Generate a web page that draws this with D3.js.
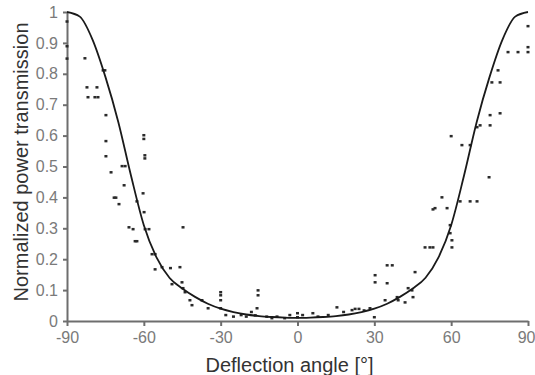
<!DOCTYPE html>
<html>
<head>
<meta charset="utf-8">
<script src="https://cdn.jsdelivr.net/npm/d3@7"></script>
<style>
    body { margin: 0; background: #fff; }
    #chart text { font-family: Arial, "Liberation Sans", sans-serif; }
</style>
</head>
<body>
<div id="chart"></div>
<script>
// fitted curve, every 5 degrees
const curveAngles = [-90, -85, -80, -75, -70, -65, -60, -55, -50, -45, -40, -35, -30, -25, -20, -15, -10, -5, 0,
    5, 10, 15, 20, 25, 30, 35, 40, 45, 50, 55, 60, 65, 70, 75, 80, 85, 90];
const curveValues = [1.0, 0.985, 0.91, 0.79, 0.645, 0.47, 0.31, 0.205, 0.14, 0.105, 0.078, 0.056, 0.04, 0.029, 0.021, 0.016, 0.013, 0.011, 0.01,
    0.011, 0.013, 0.016, 0.021, 0.029, 0.04, 0.056, 0.078, 0.105, 0.14, 0.205, 0.31, 0.47, 0.645, 0.79, 0.91, 0.985, 1.0];

// measured points
const pointAngles = [-90, -90, -90, -83, -82.2, -78.3, -81.8, -79.1, -77.9, -75.9, -75.2, -74.8, -74.8, -74.8, -72.8,
    -68.5, -67.3, -67.7, -71.6, -70.9, -69.7, -65.8, -64.2, -63.4, -62.7, -62.7, -60.3, -60, -60, -59.6, -59.6, -59.9,
    -59.5, -58, -56.8, -55.6, -55.6, -52.9, -49.6, -45.9, -44.7, -49, -45.1, -44.7, -43.9, -42, -41.2, -37.3, -34.9,
    -30, -30, -30, -30, -15.4, -15.4, -15.8, -16.5, -28, -25, -22, -20, -18, -12, -10, -8, -5, -3, 0, 0, 2, 6, 8, 12,
    15.4, 18, 21.3, 22.5, 24, 26, 28.3, 30, 30.3, 30.3, 35, 35, 37, 34.2, 38.9, 39.3, 42, 43.2, 44.7, 45.1, 45.9,
    49.8, 51.7, 52.9, 52.9, 53.7, 56.4, 58.4, 59.6, 59.6, 60.3, 60.3, 60, 63.5, 67.4, 70.1, 64.2, 67.4, 74.8, 70.1,
    71.3, 75.2, 75.2, 79.1, 75.9, 79.1, 78.3, 82.2, 86.1, 90, 90, 90];
const pointValues = [0.97, 0.89, 0.85, 0.851, 0.757, 0.757, 0.725, 0.725, 0.725, 0.812, 0.812, 0.667, 0.583, 0.534, 0.482,
    0.502, 0.502, 0.44, 0.40, 0.40, 0.379, 0.304, 0.298, 0.259, 0.259, 0.388, 0.414, 0.602, 0.59, 0.537, 0.527, 0.353,
    0.298, 0.298, 0.217, 0.217, 0.168, 0.175, 0.172, 0.175, 0.304, 0.12, 0.126, 0.107, 0.094, 0.068, 0.052, 0.068, 0.042,
    0.094, 0.084, 0.068, 0.042, 0.10, 0.084, 0.042, 0.019, 0.02, 0.015, 0.02, 0.015, 0.03, 0.015, 0.01, 0.015, 0.01, 0.02,
    0.026, 0.013, 0.02, 0.026, 0.015, 0.02,
    0.045, 0.03, 0.036, 0.04, 0.04, 0.035, 0.042, 0.013, 0.149, 0.126, 0.123, 0.181, 0.181, 0.068, 0.078, 0.068, 0.061,
    0.107, 0.10, 0.078, 0.159, 0.239, 0.239, 0.239, 0.362, 0.366, 0.401, 0.366, 0.311, 0.285, 0.262, 0.239, 0.599,
    0.388, 0.388, 0.388, 0.57, 0.57, 0.466, 0.628, 0.634, 0.634, 0.667, 0.673, 0.773, 0.773, 0.812, 0.871, 0.871,
    0.871, 0.887, 0.955];

const xTicks = [-90, -60, -30, 0, 30, 60, 90];
const yTicks = [0, 0.1, 0.2, 0.3, 0.4, 0.5, 0.6, 0.7, 0.8, 0.9, 1];

const margin = { top: 12, right: 7, bottom: 54, left: 67 };
const width = 535 - margin.left - margin.right;
const height = 375 - margin.top - margin.bottom;

const svg = d3.select('#chart').append('svg')
    .attr('width', 535)
    .attr('height', 375)
    .append('g')
    .attr('transform', `translate(${margin.left},${margin.top})`);

const xScale = d3.scaleLinear().domain([-90, 90]).range([0, width]);
const yScale = d3.scaleLinear().domain([0, 1]).range([height, 0]);

// plain hyphen for negatives, like the original
const plainFormat = (d) => String(d);

// Y axis
const yAxis = svg.append('g')
    .call(d3.axisLeft(yScale).tickValues(yTicks).tickSize(4).tickSizeOuter(0).tickFormat(plainFormat));
yAxis.select('.domain').attr('stroke', '#6e6e6e').attr('stroke-width', 2);
yAxis.selectAll('.tick line').attr('stroke', '#6e6e6e').attr('stroke-width', 2);
yAxis.selectAll('.tick text').attr('font-size', 16).attr('fill', '#7a7a7a').attr('x', -9);

// X axis
const xAxis = svg.append('g')
    .attr('transform', `translate(0,${height})`)
    .call(d3.axisBottom(xScale).tickValues(xTicks).tickSize(5).tickSizeOuter(0).tickFormat(plainFormat));
xAxis.select('.domain').attr('stroke', '#6e6e6e').attr('stroke-width', 2);
xAxis.selectAll('.tick line').attr('stroke', '#6e6e6e').attr('stroke-width', 2);
xAxis.selectAll('.tick text').attr('font-size', 16).attr('fill', '#7a7a7a').attr('y', 11);
// keep the last label inside the frame
xAxis.selectAll('.tick text').filter((d) => d === 90).attr('text-anchor', 'end').attr('dx', 7);

// points
const points = pointAngles.map((a, i) => ({ angle: a, value: pointValues[i] }));
svg.append('g')
    .selectAll('rect')
    .data(points)
    .join('rect')
    .attr('x', (d) => xScale(d.angle) - 1.5)
    .attr('y', (d) => yScale(d.value) - 1)
    .attr('width', 3)
    .attr('height', 2.5)
    .attr('fill', '#2a2a2a');

// fitted curve
const line = d3.line()
    .x((d) => xScale(d.angle))
    .y((d) => yScale(d.value))
    .curve(d3.curveMonotoneX);
svg.append('path')
    .datum(curveAngles.map((a, i) => ({ angle: a, value: curveValues[i] })))
    .attr('d', line)
    .attr('fill', 'none')
    .attr('stroke', '#1a1a1a')
    .attr('stroke-width', 1.8);

// axis titles
svg.append('text')
    .attr('x', width / 2 - 8)
    .attr('y', height + 51)
    .attr('text-anchor', 'middle')
    .attr('font-size', 20)
    .attr('fill', '#333')
    .text('Deflection angle [°]');

svg.append('text')
    .attr('transform', `translate(${-39},${150}) rotate(-90)`)
    .attr('text-anchor', 'middle')
    .attr('font-size', 20)
    .attr('fill', '#333')
    .text('Normalized power transmission');
</script>
</body>
</html>
